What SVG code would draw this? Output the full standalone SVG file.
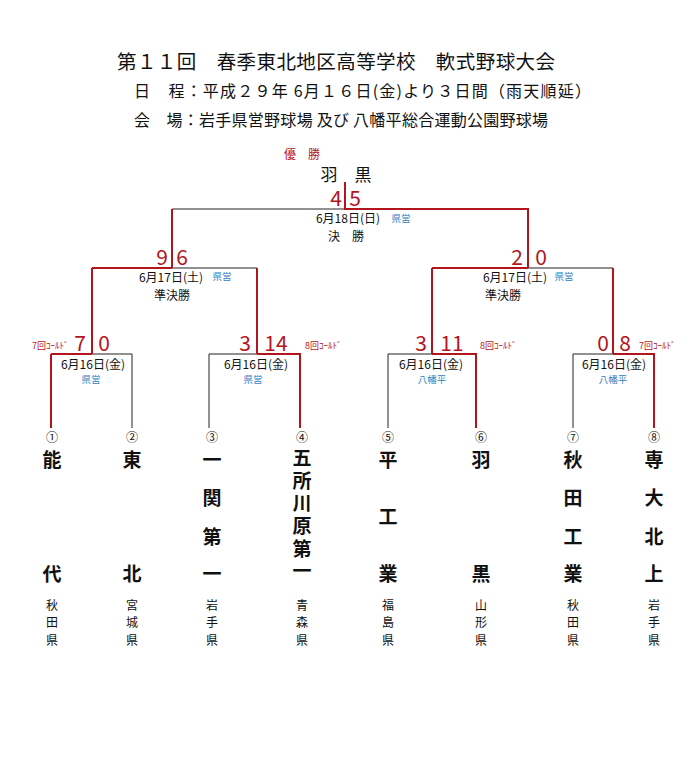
<svg xmlns="http://www.w3.org/2000/svg" width="700" height="768" viewBox="0 0 700 768">
<style>
text{font-family:"Noto Sans CJK JP","Noto Sans",sans-serif;fill:#111;dominant-baseline:central}
.hd{font-size:16px}
.red{fill:#b3151d}
.blue{fill:#2f7fc1;font-size:9.5px}
.sc{font-size:21px;fill:#b3151d}
.cold{font-size:9px;fill:#b3151d}
.dt{font-size:12px;text-anchor:middle}
.rd{font-size:12px;text-anchor:middle}
.num{font-size:12px;text-anchor:middle}
.tm{font-size:19px;font-weight:bold;text-anchor:middle}
.vt{font-size:19px;font-weight:bold;writing-mode:vertical-rl;letter-spacing:3.6px}
.pf{font-size:12px;writing-mode:vertical-rl;letter-spacing:5.5px}
.bl{stroke:#222;stroke-width:1;fill:none}
.rl{stroke:#b3151d;stroke-width:2;fill:none}
</style>
<rect width="700" height="768" fill="#fff"/>
<g id="header">
<text x="117" y="60" font-size="19.5" textLength="438">第１１回　春季東北地区高等学校　軟式野球大会</text>
<text class="hd" x="134" y="90" textLength="457">日　程：平成２９年 6月１６日(金)より３日間（雨天順延）</text>
<text class="hd" x="134" y="119" textLength="414">会　場：岩手県営野球場 及び 八幡平総合運動公園野球場</text>
</g>
<g id="connectors">
<path class="bl" d="M172,209H528 M92,268H257 M432,268H613 M51,354H132 M209,354H300 M388,354H476 M573,354H654 M132,354V428 M209,354V428 M388,354V428 M573,354V428"/>
<path class="rl" d="M345,182V209H528V268 M172,209V268 M92,268H172 M257,268V354 M432,268H528 M613,268V354 M92,268V354 M51,354H92 M51,354V428 M432,268V354 M257,354H300V428 M432,354H476V428 M613,354H654V428"/>
</g>
<g id="champion">
<text class="red" x="302" y="153" font-size="12" text-anchor="middle">優　勝</text>
<text x="346" y="173" font-size="17" text-anchor="middle">羽　黒</text>
</g>
<g id="final">
<text class="sc" x="336" y="197" text-anchor="middle">4</text>
<text class="sc" x="355" y="197" text-anchor="middle">5</text>
<text class="dt" x="348" y="217.5">6月18日(日)</text>
<text class="blue" x="401" y="217.5" text-anchor="middle">県営</text>
<text class="rd" x="346" y="235">決　勝</text>
</g>
<g id="semi-left">
<text class="sc" x="162" y="256" text-anchor="middle">9</text>
<text class="sc" x="182" y="256" text-anchor="middle">6</text>
<text class="dt" x="171" y="276.5">6月17日(土)</text>
<text class="blue" x="222" y="276" text-anchor="middle">県営</text>
<text class="rd" x="172" y="294">準決勝</text>
</g>
<g id="semi-right">
<text class="sc" x="517" y="256" text-anchor="middle">2</text>
<text class="sc" x="541" y="256" text-anchor="middle">0</text>
<text class="dt" x="515" y="276.5">6月17日(土)</text>
<text class="blue" x="564" y="276" text-anchor="middle">県営</text>
<text class="rd" x="503" y="294">準決勝</text>
</g>
<g id="match1">
<text class="cold" x="32" y="345">7回ｺｰﾙﾄﾞ</text>
<text class="sc" x="80" y="342" text-anchor="middle">7</text>
<text class="sc" x="104" y="342" text-anchor="middle">0</text>
<text class="dt" x="93" y="363">6月16日(金)</text>
<text class="blue" x="91" y="379" text-anchor="middle">県営</text>
</g>
<g id="match2">
<text class="sc" x="245" y="342" text-anchor="middle">3</text>
<text class="sc" x="276" y="342" text-anchor="middle">14</text>
<text class="cold" x="305" y="345">8回ｺｰﾙﾄﾞ</text>
<text class="dt" x="256" y="363">6月16日(金)</text>
<text class="blue" x="253" y="379" text-anchor="middle">県営</text>
</g>
<g id="match3">
<text class="sc" x="421" y="342" text-anchor="middle">3</text>
<text class="sc" x="452" y="342" text-anchor="middle">11</text>
<text class="cold" x="480" y="345">8回ｺｰﾙﾄﾞ</text>
<text class="dt" x="431" y="363">6月16日(金)</text>
<text class="blue" x="432" y="379" text-anchor="middle">八幡平</text>
</g>
<g id="match4">
<text class="sc" x="603" y="342" text-anchor="middle">0</text>
<text class="sc" x="625" y="342" text-anchor="middle">8</text>
<text class="cold" x="639" y="345">7回ｺｰﾙﾄﾞ</text>
<text class="dt" x="614" y="363">6月16日(金)</text>
<text class="blue" x="613" y="379" text-anchor="middle">八幡平</text>
</g>
<g id="team1">
<text class="num" x="52" y="436">①</text>
<text class="tm" x="52" y="458">能</text><text class="tm" x="52" y="572">代</text>
<text class="pf" x="52" y="599">秋田県</text>
</g>
<g id="team2">
<text class="num" x="132" y="436">②</text>
<text class="tm" x="132" y="458">東</text><text class="tm" x="132" y="572">北</text>
<text class="pf" x="132" y="599">宮城県</text>
</g>
<g id="team3">
<text class="num" x="212" y="436">③</text>
<text class="tm" x="212" y="458">一</text><text class="tm" x="212" y="496">関</text><text class="tm" x="212" y="535">第</text><text class="tm" x="212" y="572">一</text>
<text class="pf" x="212" y="599">岩手県</text>
</g>
<g id="team4">
<text class="num" x="302" y="436">④</text>
<text class="vt" x="302" y="448.5">五所川原第一</text>
<text class="pf" x="302" y="599">青森県</text>
</g>
<g id="team5">
<text class="num" x="388" y="436">⑤</text>
<text class="tm" x="388" y="458">平</text><text class="tm" x="388" y="515">工</text><text class="tm" x="388" y="572">業</text>
<text class="pf" x="388" y="599">福島県</text>
</g>
<g id="team6">
<text class="num" x="481" y="436">⑥</text>
<text class="tm" x="481" y="458">羽</text><text class="tm" x="481" y="572">黒</text>
<text class="pf" x="481" y="599">山形県</text>
</g>
<g id="team7">
<text class="num" x="573" y="436">⑦</text>
<text class="tm" x="573" y="458">秋</text><text class="tm" x="573" y="496">田</text><text class="tm" x="573" y="535">工</text><text class="tm" x="573" y="572">業</text>
<text class="pf" x="573" y="599">秋田県</text>
</g>
<g id="team8">
<text class="num" x="654" y="436">⑧</text>
<text class="tm" x="654" y="458">専</text><text class="tm" x="654" y="496">大</text><text class="tm" x="654" y="535">北</text><text class="tm" x="654" y="572">上</text>
<text class="pf" x="654" y="599">岩手県</text>
</g>
</svg>
